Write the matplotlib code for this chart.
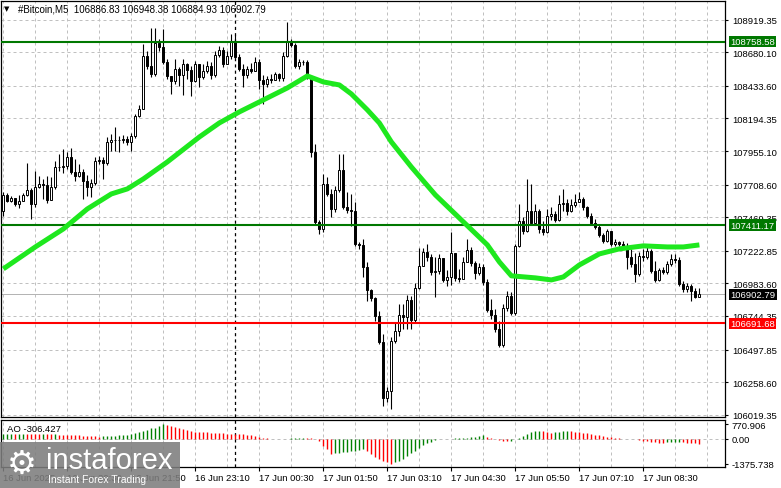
import numpy as np
import matplotlib.pyplot as plt
from matplotlib.patches import Rectangle
import matplotlib.transforms as mtransforms

plt.rcParams['font.family'] = ['Liberation Sans', 'DejaVu Sans']

# ---- data: #Bitcoin M5, 16 Jun 19:10 .. 17 Jun 09:40 (175 candles) ----
first_open = 107518
closes = [
    107635, 107591, 107611, 107567, 107591, 107633, 107670, 107567, 107692, 107714,
    107709, 107599, 107692, 107838, 107838, 107845, 107912, 107802, 107772, 107802,
    107736, 107692, 107721, 107882, 107890, 107868, 108022, 108039, 108033, 108036,
    108044, 108024, 108066, 108213, 108264, 108656, 108577, 108521, 108748, 108717,
    108607, 108504, 108467, 108557, 108513, 108594, 108550, 108472, 108594, 108497,
    108545, 108577, 108513, 108660, 108697, 108594, 108651, 108758, 108648, 108557,
    108513, 108557, 108545, 108607, 108479, 108447, 108484, 108477, 108521, 108489,
    108655, 108753, 108736, 108577, 108611, 108605, 108497, 107946, 107433, 107384,
    107714, 107640, 107530, 107670, 107816, 107543, 107525, 107513, 107273, 107266,
    107105, 106936, 106875, 106747, 106552, 106143, 106195, 106560, 106635, 106755,
    106736, 106863, 106716, 106951, 107114, 107215, 107178, 107068, 107075, 107171,
    107009, 107034, 107207, 107024, 107017, 107144, 107229, 107132, 107058, 107107,
    106997, 106789, 106753, 106650, 106533, 106804, 106892, 106767, 107259, 107440,
    107371, 107518, 107428, 107516, 107384, 107362, 107481, 107494, 107452, 107567,
    107574, 107513, 107562, 107579, 107604, 107543, 107481, 107425, 107400, 107339,
    107298, 107367, 107273, 107286, 107273, 107261, 107176, 107127, 107053, 107188,
    107176, 107224, 107078, 107009, 107083, 107068, 107127, 107163, 107156, 106980,
    106943, 106963, 106931, 106887, 106902.79,
]
highs = [
    107655, 107648, 107626, 107611, 107633, 107648, 107868, 107684, 107809, 107772,
    107750, 107772, 107765, 107882, 107933, 107970, 107948, 107977, 107897, 107860,
    107824, 107780, 107750, 107912, 107919, 107912, 108058, 108080, 108132, 108066,
    108073, 108066, 108088, 108227, 108293, 108741, 108690, 108858, 108858, 108778,
    108851, 108631, 108506, 108631, 108572, 108631, 108601, 108579, 108616, 108572,
    108594, 108616, 108609, 108690, 108726, 108719, 108690, 108814, 108807, 108667,
    108594, 108579, 108601, 108645, 108631, 108513, 108506, 108521, 108535, 108528,
    108682, 108902, 108778, 108748, 108631, 108623, 108623, 108513, 108007, 107450,
    107787, 107765, 107677, 107699, 107933, 107933, 107655, 107640, 107582, 107288,
    107310, 107141, 106943, 106885, 106782, 106613, 106224, 106591, 106701, 106833,
    106833, 106899, 106892, 106987, 107244, 107244, 107273, 107200, 107178, 107200,
    107163, 107083, 107364, 107207, 107090, 107178, 107310, 107251, 107149, 107134,
    107127, 107017, 106870, 106797, 106708, 106833, 106929, 106921, 107273, 107567,
    107471, 107750, 107714, 107567, 107530, 107442, 107530, 107545, 107516, 107633,
    107677, 107604, 107604, 107640, 107655, 107618, 107552, 107501, 107457, 107420,
    107354, 107384, 107369, 107310, 107295, 107295, 107281, 107237, 107207, 107215,
    107237, 107251, 107237, 107149, 107097, 107105, 107149, 107200, 107200, 107178,
    107002, 106987, 106980, 106951, 106948.38,
]
lows = [
    107479, 107582, 107582, 107552, 107537, 107589, 107626, 107457, 107545, 107684,
    107604, 107574, 107596, 107677, 107809, 107794, 107824, 107787, 107736, 107765,
    107604, 107626, 107618, 107706, 107860, 107750, 107853, 107956, 107956, 107948,
    108014, 108000, 107956, 108051, 108205, 108264, 108557, 108499, 108506, 108690,
    108594, 108484, 108374, 108447, 108432, 108367, 108484, 108359, 108462, 108425,
    108484, 108528, 108484, 108499, 108645, 108572, 108609, 108631, 108638, 108543,
    108425, 108491, 108528, 108543, 108411, 108300, 108425, 108455, 108484, 108469,
    108469, 108645, 108719, 108565, 108557, 108587, 108484, 107912, 107413, 107347,
    107362, 107626, 107471, 107508, 107655, 107530, 107501, 107406, 107259, 107237,
    107031, 106855, 106855, 106708, 106540, 106085, 106114, 106063, 106547, 106598,
    106650, 106650, 106650, 106701, 106943, 107112, 107149, 107046, 106885, 107053,
    106995, 106965, 106973, 107002, 106995, 107017, 107156, 107112, 107017, 107046,
    106973, 106774, 106723, 106628, 106518, 106518, 106782, 106753, 106753, 107251,
    107347, 107362, 107413, 107413, 107354, 107340, 107354, 107449, 107435, 107442,
    107516, 107486, 107508, 107545, 107582, 107523, 107464, 107413, 107384, 107325,
    107281, 107288, 107259, 107259, 107259, 107244, 107090, 107105, 106995, 107039,
    107149, 107163, 107061, 106995, 107002, 107053, 107053, 107112, 107134, 106965,
    106921, 106921, 106855, 106877, 106884.93,
]

# moving average read at selected candles
ma_idx = [0, 8, 15, 21, 27, 31, 35, 41, 49, 54, 59, 64, 68, 71, 76, 80, 84, 87, 91,
          94, 97, 102, 108, 115, 121, 124, 127, 133, 137, 140, 144, 149, 154, 160,
          166, 170, 174]
ma_vals = [107090, 107251, 107383, 107530, 107640, 107677, 107750, 107875, 108058,
           108161, 108242, 108315, 108374, 108418, 108506, 108462, 108440, 108374,
           108257, 108161, 108022, 107838, 107633, 107435, 107266, 107141, 107039,
           107024, 107009, 107031, 107119, 107200, 107237, 107259, 107251, 107251,
           107266]

ao = [
    240, 250, 260, 255, 265, 270, 262, 258,
    250, 240, 245, 235, 225, 230, 220, 210, 200, 190, 180, 170, 160, 150, 140, 120, 110,
    120, 135, 150, 165, 180, 200, 220, 240, 290,
    370, 420, 480, 570, 605, 700, 770.906,
    740, 680, 620, 560, 500, 450, 420, 380, 375, 360, 340, 330, 320, 300, 290, 275,
    270, 265, 250, 230, 210, 170, 120, 80, 40, 10,
    -15, -35, -45, -30, -15, 5, 20, 25, 30, 28, 15, -20,
    -140, -400, -590, -825, -800, -770, -750, -735, -700, -680, -625, -590, -700, -860,
    -990, -1110,
    -1227, -1318, -1375.738, -1318, -1227, -1100, -952, -805, -677, -549, -366, -256,
    -165, -92, -37, -18, -20, -5, 2, 10, 37, 55, 92, 110, 146, 183, 110, 55, -5, -73,
    -128, -146, -110, -37, 37, 146, 256, 366, 421, 440, 403, 366, 330, 366, 385, 403,
    421, 415, 385, 366, 330, 293, 256, 220, 183, 146, 110, 73, 37, 5, -5, -15, -25,
    -37, -73, -110, -146, -183, -201, -220, -225, -205, -190, -185, -170, -201, -220,
    -240, -260, -306.427,
]

resistance_hi = 108758.58
resistance_mid = 107411.17
support = 106691.68
last_price = 106902.79

price_ticks = [108919.35, 108680.10, 108433.60, 108194.35, 107955.10, 107708.60,
               107469.35, 107222.85, 106983.60, 106744.35, 106497.85, 106258.60,
               106019.35]
time_ticks = [0, 16, 32, 48, 64, 80, 96, 112, 128, 144, 160]
time_labels = ['16 Jun 2025', '16 Jun 20:30', '16 Jun 21:50', '16 Jun 23:10',
               '17 Jun 00:30', '17 Jun 01:50', '17 Jun 03:10', '17 Jun 04:30',
               '17 Jun 05:50', '17 Jun 07:10', '17 Jun 08:30']
day_sep = 58  # 17 Jun 00:00

closes = np.array(closes, dtype=float)
highs = np.array(highs, dtype=float)
lows = np.array(lows, dtype=float)
opens = np.concatenate([[first_open], closes[:-1]])
opens[-1] = 106886.83
highs = np.maximum(highs, np.maximum(opens, closes))
lows = np.minimum(lows, np.minimum(opens, closes))
idx = np.arange(len(closes))
ao = np.array(ao)

fs = 6.8
grid_kw = dict(color='#c0c0c0', linewidth=0.72, linestyle=(0, (3, 3)))

fig = plt.figure(figsize=(7.81, 4.89), dpi=100)
W, H = 781, 489
ax = fig.add_axes([1 / W, 1 - 418 / H, 724 / W, 416 / H])
ax2 = fig.add_axes([1 / W, 1 - 468 / H, 724 / W, 47 / H])

xlim = (-0.575, 180.4)
for a in (ax, ax2):
    a.set_xlim(*xlim)
    for s in a.spines.values():
        s.set_color('black')
        s.set_linewidth(0.9)
    for g in range(0, 181, 8):
        a.axvline(g, zorder=0.5, **grid_kw)
    a.axvline(day_sep, color='black', linewidth=0.9, linestyle=(0, (2.5, 2.5)), zorder=1)

# ---- main panel ----
ax.set_ylim(106003, 109056)
for p in price_ticks:
    ax.axhline(p, zorder=0.5, **grid_kw)

ax.vlines(idx, lows, highs, color='black', linewidth=0.8, zorder=2.8)
bull = closes >= opens
ax.bar(idx, np.abs(closes - opens), bottom=np.minimum(opens, closes), width=0.55,
       color=np.where(bull, 'white', 'black'), edgecolor='black', linewidth=0.7, zorder=3)

ax.axhline(last_price, color='#b4b4b4', linewidth=0.72, zorder=2)
ax.axhline(resistance_hi, color='#007800', linewidth=1.5, zorder=3.5)
ax.axhline(resistance_mid, color='#007800', linewidth=1.5, zorder=3.5)
ax.axhline(support, color='#ff0000', linewidth=1.5, zorder=3.5)
ax.plot(ma_idx, ma_vals, color='#1ee81e', linewidth=3.6, zorder=4, solid_capstyle='butt')

ax.yaxis.tick_right()
ax.set_yticks(price_ticks)
ax.set_yticklabels([f'{p:.2f}' for p in price_ticks], fontsize=fs)
ax.tick_params(axis='y', direction='out', length=2.5, width=0.8, pad=2.5)
ax.set_xticks([])

tr = mtransforms.blended_transform_factory(ax.transAxes, ax.transData)
for val, bg in [(resistance_hi, '#007800'), (resistance_mid, '#007800'),
                (last_price, 'black'), (support, '#ff0000')]:
    ax.text(1.0075, val, f'{val:.2f}', transform=tr, ha='left', va='center',
            fontsize=fs, color='white', clip_on=False, zorder=10,
            bbox=dict(boxstyle='square,pad=0.12', facecolor=bg, edgecolor='none'))

# ---- AO panel ----
ax2.set_ylim(-1567, 1018)
ax2.axhline(0, zorder=0.5, **grid_kw)
ao_cols = ['green'] + ['green' if ao[i] > ao[i - 1] else 'red' for i in range(1, len(ao))]
ax2.vlines(idx, 0, ao, colors=ao_cols, linewidth=1.0, zorder=3)
ax2.yaxis.tick_right()
ax2.set_yticks([770.906, 0, -1375.738])
ax2.set_yticklabels(['770.906', '0.00', '-1375.738'], fontsize=fs)
ax2.tick_params(axis='y', direction='out', length=2.5, width=0.8, pad=2.5)
ax2.set_xticks(time_ticks)
ax2.set_xticklabels(time_labels, fontsize=fs, ha='left')
ax2.tick_params(axis='x', direction='out', length=3, width=0.8, pad=1.5)
ax2.text(6 / 724, 0.82, 'AO -306.427', transform=ax2.transAxes, fontsize=fs,
         ha='left', va='center')

# ---- header ----
fig.text(4 / W, 1 - 9 / H, '\u25bc', fontsize=5, ha='left', va='center',
         family=['DejaVu Sans'])
fig.text(18 / W, 1 - 9 / H, '#Bitcoin,M5  106886.83 106948.38 106884.93 106902.79',
         fontsize=7, ha='left', va='center')

# ---- watermark ----
fig.patches.append(Rectangle((0, 0), 180 / W, 46 / H, transform=fig.transFigure,
                             facecolor='#7d7d7d', alpha=0.88, edgecolor='none', zorder=5))
fig.text(22 / W, 1 - 464 / H, '\u2699', fontsize=24, color='white', ha='center',
         va='center', family=['DejaVu Sans'], zorder=6)
fig.text(46 / W, 1 - 461 / H, 'instaforex', fontsize=21, color='white', ha='left',
         va='center', zorder=6)
fig.text(48 / W, 1 - 480 / H, 'Instant Forex Trading', fontsize=7.5, color='white',
         ha='left', va='center', zorder=6)

fig.savefig('out.png', dpi=100)
